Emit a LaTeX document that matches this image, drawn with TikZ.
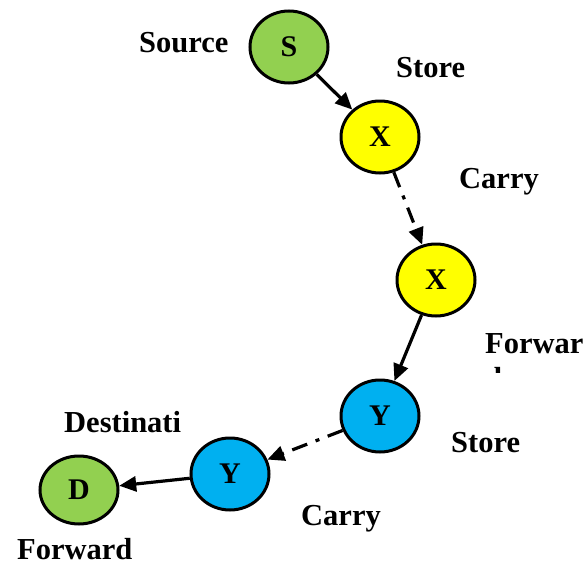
\documentclass[tikz,border=0pt]{standalone}
\usepackage{fontspec}
\setmainfont{Liberation Serif}
\usetikzlibrary{shapes.geometric,arrows.meta}

\definecolor{nodegreen}{RGB}{146,208,80}
\definecolor{nodeyellow}{RGB}{255,255,0}
\definecolor{nodeblue}{RGB}{0,176,240}

\tikzset{
  hop/.style={ellipse, draw=black, line width=3pt, minimum width=78pt,
    minimum height=72pt, inner sep=0pt, font=\fontsize{30}{34}\selectfont\bfseries},
  lbl/.style={anchor=base west, inner sep=0pt, font=\fontsize{30.5}{34}\selectfont\bfseries},
  link/.style={line width=3.2pt, -{Triangle[length=17pt,width=15pt]}},
  carrylink/.style={link, dash pattern=on 16pt off 9pt on 4pt off 9pt},
}

\begin{document}
\begin{tikzpicture}[x=1pt,y=-1pt]
  \useasboundingbox (0,0) rectangle (587,565);

  % nodes along the route
  \node[hop, fill=nodegreen]  (s)  at (289,47)  {S};
  \node[hop, fill=nodeyellow] (x1) at (380,137) {X};
  \node[hop, fill=nodeyellow] (x2) at (436,280) {X};
  \node[hop, fill=nodeblue]   (y1) at (380,416) {Y};
  \node[hop, fill=nodeblue]   (y2) at (230,474) {Y};
  \node[hop, fill=nodegreen, minimum height=68pt] (d) at (79,490) {D};

  % hops: solid = forward, dash-dot = carry
  \draw[link]      (s)  -- (x1);
  \draw[carrylink] (x1) -- (x2);
  \draw[link]      (x2) -- (y1);
  \draw[carrylink] (y1) -- (y2);
  \draw[link]      (y2) -- (d);

  % labels
  \node[lbl] (lsource) at (139,52)  {Source};
  \node[lbl] (lstore1) at (396,77)  {Store};
  \node[lbl] (lcarry1) at (459,188) {Carry};
  \node[lbl] (lfwd1)   at (485,353) {Forwar};
  \begin{scope}
    \clip (480,340) rectangle (587,372);
    \node[lbl] (lfwd1b) at (485,388) {d};
  \end{scope}
  \node[lbl] (lstore2) at (451,452) {Store};
  \node[lbl] (ldest)   at (64,432)  {Destinati};
  \node[lbl] (lcarry2) at (301,525) {Carry};
  \node[lbl] (lfwd2)   at (17,559)  {Forward};
\end{tikzpicture}
\end{document}
